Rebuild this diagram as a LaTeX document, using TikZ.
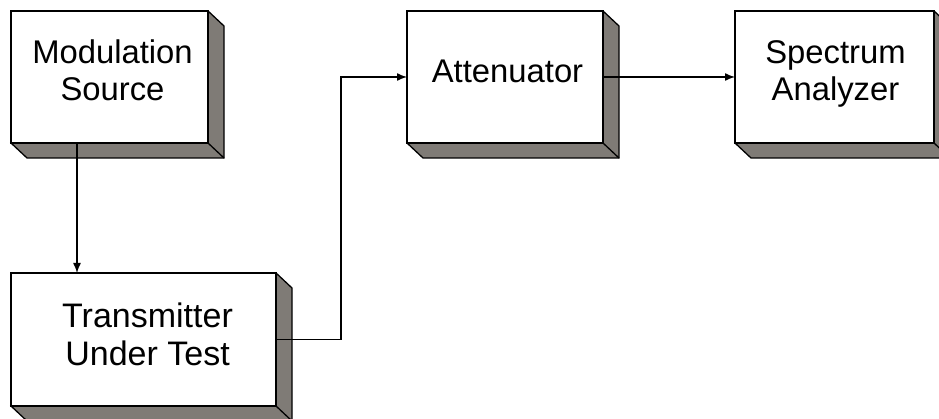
\documentclass[tikz,border=0pt]{standalone}
\usepackage{fontspec}
\setmainfont{Liberation Sans}
\usetikzlibrary{arrows.meta,calc}
\definecolor{shade}{RGB}{127,123,118}
\tikzset{
  frontbox/.style={draw=black, line width=1.8pt, fill=white, rectangle, inner sep=0pt, outer sep=0pt},
  boxtext/.style={font=\fontsize{32.8}{37}\selectfont, align=center, inner sep=0pt, text depth=0pt},
  bigtext/.style={boxtext, font=\fontsize{34}{38}\selectfont},
  shadowface/.style={fill=shade, draw=black, line width=1.3pt, line join=miter},
  arr/.style={draw=black, line width=1.4pt, -{Latex[length=10pt,width=8pt]}},
}
\newcommand{\extrude}[1]{%
  \path[shadowface] (#1.north east) -- ($(#1.north east)+(16,15)$) -- ($(#1.south east)+(16,15)$) -- ($(#1.south west)+(16,15)$) -- (#1.south west) -- cycle;
  \draw[line width=1.3pt] (#1.south east) -- ($(#1.south east)+(16,15)$);
}
\begin{document}
\begin{tikzpicture}[x=1pt,y=-1pt]
\useasboundingbox (0,0) rectangle (939,419);
% boxes
\node[frontbox, minimum width=197pt, minimum height=132pt] (ms) at (109.5,77) {};
\node[frontbox, minimum width=265pt, minimum height=133pt] (tx) at (143.5,339.5) {};
\node[frontbox, minimum width=196pt, minimum height=132pt] (at) at (505,77) {};
\node[frontbox, minimum width=199pt, minimum height=132pt] (sa) at (834.5,77) {};
\extrude{ms}
\extrude{tx}
\extrude{at}
\extrude{sa}
\node[frontbox, minimum width=197pt, minimum height=132pt] at (109.5,77) {};
\node[frontbox, minimum width=265pt, minimum height=133pt] at (143.5,339.5) {};
\node[frontbox, minimum width=196pt, minimum height=132pt] at (505,77) {};
\node[frontbox, minimum width=199pt, minimum height=132pt] at (834.5,77) {};
% texts
\node[boxtext] (mst) at (112.5,70) {Modulation\\Source};
\node[bigtext] (txt) at (147.5,334.5) {Transmitter\\Under Test};
\node[boxtext] (att) at (507.5,71.5) {Attenuator};
\node[boxtext] (sat) at (835.5,71) {Spectrum\\Analyzer};
% connectors
\draw[arr] ([xshift=66pt]ms.south west) -- ([xshift=66pt]tx.north west);
\draw[arr] (tx.east) -- ++(65,0) |- (at.west);
\draw[arr] (at.east) -- (sa.west);
\end{tikzpicture}
\end{document}
